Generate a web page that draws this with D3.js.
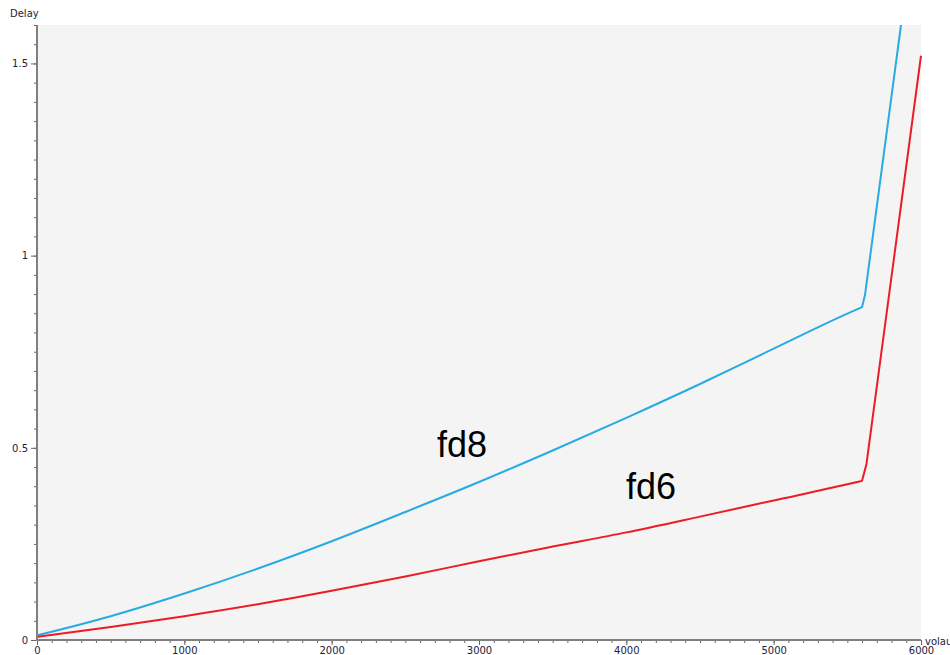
<!DOCTYPE html>
<html>
<head>
<meta charset="utf-8">
<script src="https://cdn.jsdelivr.net/npm/d3@7"></script>
<style>
  body { margin: 0; background: #fff; }
  svg { display: block; }
  .tick text { font-family: "DejaVu Sans", sans-serif; font-size: 10px; fill: #1c1c3c; }
</style>
</head>
<body>
<script>
// volume on x, delay on y
const fd8 = [
    [0, 0.012], [500, 0.062], [1000, 0.121], [1500, 0.186], [2000, 0.257],
    [2500, 0.333], [3000, 0.411], [3500, 0.493], [4000, 0.578], [4500, 0.666],
    [5000, 0.758], [5500, 0.849], [5600, 0.866], [5620, 0.898], [6000, 1.99],
];
const fd6 = [
    [0, 0.008], [500, 0.034], [1000, 0.062], [1500, 0.093], [2000, 0.128],
    [2500, 0.165], [3000, 0.205], [3500, 0.243], [4000, 0.280], [4500, 0.321],
    [5000, 0.363], [5500, 0.405], [5600, 0.414], [5630, 0.458], [6000, 1.52],
];
const kneeX = 5600;   // smooth part ends here, straight segments after
const curveLabels = [
    {name: 'fd8', x: 2715, y: 0.477},
    {name: 'fd6', x: 3998, y: 0.367},
];
const xMajorTicks = [0, 1000, 2000, 3000, 4000, 5000, 6000];
const yMajorTicks = [0, 0.5, 1, 1.5];

function plot(svg)
{
    const left = 37, right = 921, top = 25, bottom = 640;

    const scX = d3.scaleLinear().domain([0, 6000]).range([left, right]);
    const scY = d3.scaleLinear().domain([0, 1.6]).range([bottom, top]);

    svg.append('rect')
        .attr('x', left).attr('y', top)
        .attr('width', right - left).attr('height', bottom - top)
        .attr('fill', '#f4f4f4');

    svg.append('clipPath').attr('id', 'clip')
        .append('rect')
        .attr('x', left).attr('y', top)
        .attr('width', right - left + 2).attr('height', bottom - top);

    const smooth = d3.line().curve(d3.curveMonotoneX)
        .x(d => scX(d[0])).y(d => scY(d[1]));
    const straight = d3.line()
        .x(d => scX(d[0])).y(d => scY(d[1]));

    function drawSeries(parent, data, colour)
    {
        const head = data.filter(d => d[0] <= kneeX);
        const tail = data.filter(d => d[0] >= kneeX);
        parent.append('path')
            .attr('d', smooth(head) + straight(tail).replace(/^M/, 'L'))
            .attr('fill', 'none').attr('stroke', colour)
            .attr('stroke-width', 2).attr('stroke-linejoin', 'round');
    }

    const lines = svg.append('g').attr('clip-path', 'url(#clip)');
    drawSeries(lines, fd8, '#29abe2');
    drawSeries(lines, fd6, '#ec1c24');

    svg.selectAll('text.curve')
        .data(curveLabels).enter().append('text')
        .attr('class', 'curve')
        .attr('x', d => scX(d.x))
        .attr('y', d => scY(d.y))
        .attr('font-family', '"Liberation Sans", Arial, sans-serif')
        .attr('font-size', 36)
        .attr('fill', '#000')
        .text(d => d.name);

    // minor ticks first, then the labelled ones
    const yMinor = svg.append('g')
        .attr('transform', `translate(${left}, 0)`)
        .call(d3.axisLeft(scY).tickValues(d3.range(0, 1.6001, 0.05)).tickSize(3).tickFormat(''));
    const yMajor = svg.append('g')
        .attr('transform', `translate(${left}, 0)`)
        .call(d3.axisLeft(scY).tickValues(yMajorTicks).tickSize(6).tickPadding(3)
            .tickFormat(d3.format('')));
    const xMinor = svg.append('g')
        .attr('transform', `translate(0, ${bottom})`)
        .call(d3.axisBottom(scX).tickValues(d3.range(0, 6001, 100)).tickSize(3).tickFormat(''));
    const xMajor = svg.append('g')
        .attr('transform', `translate(0, ${bottom})`)
        .call(d3.axisBottom(scX).tickValues(xMajorTicks).tickSize(5).tickPadding(2)
            .tickFormat(d3.format('d')));

    [yMinor, yMajor, xMinor, xMajor].forEach(g => {
        g.select('.domain').remove();
        g.selectAll('line').attr('stroke', '#666');
    });

    svg.append('line')
        .attr('x1', left).attr('x2', left).attr('y1', top).attr('y2', bottom + 1)
        .attr('stroke', '#808080').attr('stroke-width', 2);
    svg.append('line')
        .attr('x1', left - 1).attr('x2', right).attr('y1', bottom).attr('y2', bottom)
        .attr('stroke', '#808080').attr('stroke-width', 2);

    svg.append('text')
        .attr('x', 10).attr('y', 17)
        .attr('font-family', '"DejaVu Sans", sans-serif').attr('font-size', 10)
        .attr('fill', '#1c1c3c')
        .text('Delay');
    svg.append('text')
        .attr('x', 925).attr('y', 645)
        .attr('font-family', '"DejaVu Sans", sans-serif').attr('font-size', 10)
        .attr('fill', '#1c1c3c')
        .text('volau');
}

function main()
{
    const svg = d3.select('body')
        .append('svg')
        .attr('width', 950)
        .attr('height', 655);
    plot(svg);
}

main();
</script>
</body>
</html>
